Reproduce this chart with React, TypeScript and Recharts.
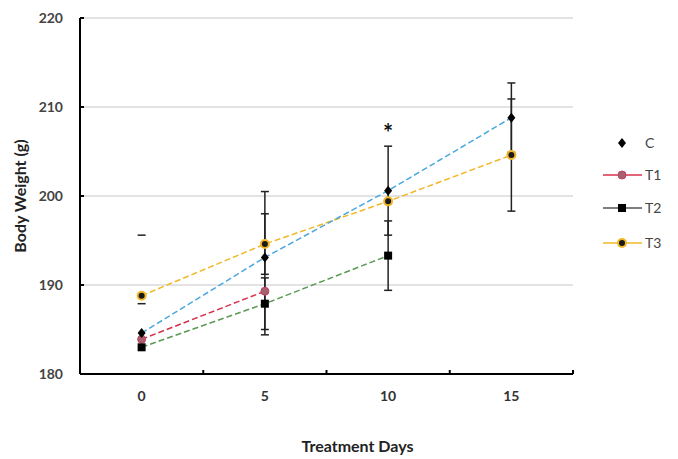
import React from 'react';
import { ComposedChart, Line, XAxis, YAxis, CartesianGrid, ErrorBar, Scatter, Legend } from 'recharts';

// ---- data ----
const days = [0, 5, 10, 15];
const seriesNames = ['C', 'T1', 'T2', 'T3'];
const cValues = [184.6, 193.1, 200.6, 208.8];
const cErrors: (number[] | undefined)[] = [undefined, [8.7, 7.4], [5.0, 5.0], [3.9, 3.9]];
const t1Values = [183.9, 189.3];
const t2Values = [183.0, 187.9, 193.3];
const t2Errors: (number[] | undefined)[] = [undefined, [2.9, 2.9], [3.9, 3.9]];
const t3Values = [188.8, 194.6, 199.4, 204.6];
const t3Errors: (number[] | undefined)[] = [undefined, [3.4, 3.4], undefined, [6.3, 6.3]];
const capDays = [0, 0];
const capValues = [195.6, 187.9];
const sigDays = [10];
const sigValues = [207.5];
const yTicks = [180, 190, 200, 210, 220];
const xLabelTicks = [0, 5, 10, 15];
const xBoundaryTicks = [2.5, 7.5, 12.5, 17.5];

const build = (vals: number[], errs?: (number[] | undefined)[]) =>
  vals.map((v, i) => ({ day: days[i], value: v, err: errs ? errs[i] : undefined }));

const cRows = build(cValues, cErrors);
const t1Rows = build(t1Values);
const t2Rows = build(t2Values, t2Errors);
const t3Rows = build(t3Values, t3Errors);
const capRows = capDays.map((d, i) => ({ day: d, value: capValues[i] }));
const sigRows = sigDays.map((d, i) => ({ day: d, value: sigValues[i] }));
const allXTicks = [...xLabelTicks, ...xBoundaryTicks].sort((a, b) => a - b);

const FONT = 'Lato, "Liberation Sans", sans-serif';
const C_COLOR = '#4aa8dc';
const T1_COLOR = '#d8304a';
const T2_COLOR = '#5a9a55';
const T3_COLOR = '#f0b828';

const Diamond = (p: any) => {
  const { cx, cy } = p;
  if (cx == null || cy == null) return null;
  return <path d={`M${cx},${cy - 5} L${cx + 4},${cy} L${cx},${cy + 5} L${cx - 4},${cy} Z`} fill="#000" />;
};
const T1Dot = (p: any) => {
  const { cx, cy } = p;
  if (cx == null || cy == null) return null;
  return <circle cx={cx} cy={cy} r={4} fill="#a86070" stroke="#c04060" strokeWidth={1} />;
};
const T2Dot = (p: any) => {
  const { cx, cy } = p;
  if (cx == null || cy == null) return null;
  return <rect x={cx - 4} y={cy - 4} width={8} height={8} fill="#000" />;
};
const T3Dot = (p: any) => {
  const { cx, cy } = p;
  if (cx == null || cy == null) return null;
  return <circle cx={cx} cy={cy} r={4} fill="#1a1a1a" stroke={T3_COLOR} strokeWidth={2} />;
};
const CapShape = (p: any) => {
  const { cx, cy } = p;
  return <line x1={cx - 4} x2={cx + 4} y1={cy} y2={cy} stroke="#222" strokeWidth={1.5} />;
};
const SigShape = (p: any) => {
  const { cx, cy } = p;
  return (
    <text x={cx} y={cy} dy="0.55em" textAnchor="middle" fontSize={24} fontWeight="bold" fontFamily={FONT} fill="#111">
      *
    </text>
  );
};

const YTick = (p: any) => {
  const { x, y, payload } = p;
  return (
    <g>
      <line x1={x} x2={x + 4} y1={y} y2={y} stroke="#000" strokeWidth={2} />
      <text x={x - 17} y={y} dy="0.35em" textAnchor="end" fontSize={14} fontWeight="bold" fontFamily={FONT} fill="#444">
        {payload.value}
      </text>
    </g>
  );
};

const XTick = (p: any) => {
  const { x, y, payload } = p;
  if (xLabelTicks.includes(payload.value)) {
    return (
      <text x={x} y={y + 17} dy="0.71em" textAnchor="middle" fontSize={14} fontWeight="bold" fontFamily={FONT} fill="#333">
        {payload.value}
      </text>
    );
  }
  return <line x1={x} x2={x} y1={y - 4} y2={y} stroke="#000" strokeWidth={2} />;
};

const legendItems = [
  { name: seriesNames[0], line: null as string | null, dot: 'diamond', y: 18 },
  { name: seriesNames[1], line: T1_COLOR, dot: 't1', y: 50 },
  { name: seriesNames[2], line: '#555', dot: 'square', y: 83 },
  { name: seriesNames[3], line: T3_COLOR, dot: 't3', y: 118 },
];

const LegendContent = () => (
  <svg width={83} height={140}>
    {legendItems.map((it) => (
      <g key={it.name}>
        {it.line && <line x1={8} x2={47} y1={it.y} y2={it.y} stroke={it.line} strokeWidth={1.5} />}
        {it.dot === 'diamond' && <Diamond cx={27} cy={it.y} />}
        {it.dot === 't1' && <T1Dot cx={27} cy={it.y} />}
        {it.dot === 'square' && <T2Dot cx={27} cy={it.y} />}
        {it.dot === 't3' && <T3Dot cx={27} cy={it.y} />}
        <text x={50} y={it.y} dy="0.35em" fontSize={14} fontFamily={FONT} fill="#444">
          {it.name}
        </text>
      </g>
    ))}
  </svg>
);

export default function App() {
  return (
    <div style={{ position: 'absolute', left: 0, top: 0, background: '#fff' }}>
      <ComposedChart width={678} height={459} margin={{ top: 18, right: 22, bottom: 55, left: 0 }}>
        <CartesianGrid horizontal vertical={false} stroke="#c8c8c8" strokeWidth={1.2} />
        <XAxis
          type="number"
          dataKey="day"
          domain={[-2.5, 17.5]}
          ticks={allXTicks}
          interval={0}
          tickSize={0}
          tickMargin={0}
          tickLine={false}
          tick={<XTick />}
          height={30}
          axisLine={{ stroke: '#000', strokeWidth: 2 }}
          allowDataOverflow
          label={{
            value: 'Treatment Days',
            position: 'bottom',
            offset: 37,
            dx: 31,
            fontSize: 16,
            fontWeight: 'bold',
            fontFamily: FONT,
            fill: '#222',
          }}
        />
        <YAxis
          type="number"
          domain={[180, 220]}
          ticks={yTicks}
          interval={0}
          width={80}
          tickSize={0}
          tickMargin={0}
          tickLine={false}
          tick={<YTick />}
          axisLine={{ stroke: '#000', strokeWidth: 2 }}
          allowDataOverflow
          label={{
            value: 'Body Weight (g)',
            angle: -90,
            position: 'insideLeft',
            offset: 20,
            style: { textAnchor: 'middle' },
            fontSize: 16,
            fontWeight: 'bold',
            fontFamily: FONT,
            fill: '#222',
          }}
        />
        <Legend
          layout="horizontal"
          verticalAlign="middle"
          align="right"
          content={<LegendContent />}
          wrapperStyle={{ left: 595, top: 125, width: 83, height: 140 }}
        />
        <Line data={t1Rows} dataKey="value" name="T1" type="linear" stroke={T1_COLOR} strokeWidth={1.5} strokeDasharray="6 3" dot={<T1Dot />} isAnimationActive={false} legendType="none" />
        <Line data={t2Rows} dataKey="value" name="T2" type="linear" stroke={T2_COLOR} strokeWidth={1.5} strokeDasharray="6 3" dot={<T2Dot />} isAnimationActive={false} legendType="none">
          <ErrorBar dataKey="err" direction="y" width={4} stroke="#222" strokeWidth={1.5} isAnimationActive={false} />
        </Line>
        <Line data={t3Rows} dataKey="value" name="T3" type="linear" stroke={T3_COLOR} strokeWidth={1.5} strokeDasharray="6 3" dot={<T3Dot />} isAnimationActive={false} legendType="none">
          <ErrorBar dataKey="err" direction="y" width={4} stroke="#222" strokeWidth={1.5} isAnimationActive={false} />
        </Line>
        <Line data={cRows} dataKey="value" name="C" type="linear" stroke={C_COLOR} strokeWidth={1.5} strokeDasharray="6 3" dot={<Diamond />} isAnimationActive={false} legendType="none">
          <ErrorBar dataKey="err" direction="y" width={4} stroke="#222" strokeWidth={1.5} isAnimationActive={false} />
        </Line>
        <Scatter data={capRows} dataKey="value" shape={<CapShape />} isAnimationActive={false} legendType="none" />
        <Scatter data={sigRows} dataKey="value" shape={<SigShape />} isAnimationActive={false} legendType="none" />
      </ComposedChart>
    </div>
  );
}
